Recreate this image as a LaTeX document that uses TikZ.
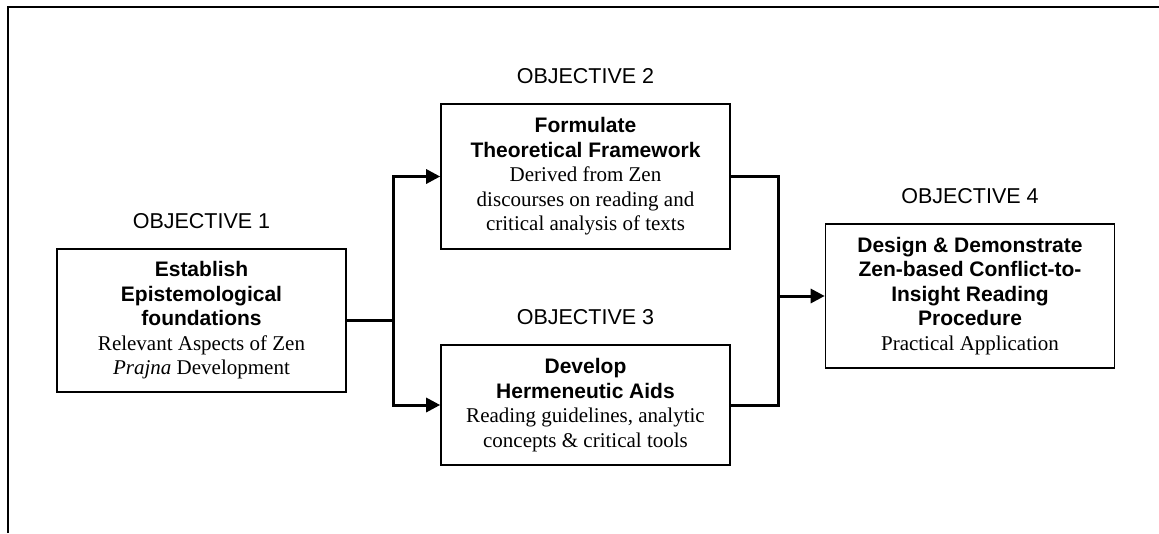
\documentclass[tikz,border=0pt]{standalone}
\usepackage{fontspec}
\setmainfont{Liberation Serif}
\setsansfont{Liberation Sans}
\usetikzlibrary{positioning,arrows.meta}

\tikzset{
  objbox/.style={draw,line width=1.6pt,minimum width=289pt,inner sep=0pt,align=center,
    font=\fontsize{21}{24.5}\selectfont},
  objlabel/.style={inner sep=0pt,font=\sffamily\fontsize{21.5}{24}\selectfont},
  link/.style={line width=3pt},
  linkarrow/.style={link,-{Triangle[length=14pt,width=14pt]}}
}
\newcommand{\boxhead}[1]{{\sffamily\bfseries #1}}

\begin{document}
\begin{tikzpicture}[x=1pt,y=-1pt]
\useasboundingbox (0,0) rectangle (1159,533);
\draw[line width=2.5pt] (8,533) -- (8,7) -- (1159,7);

\node[objbox,minimum height=143pt] (o1) at (201.5,320.5)
  {\boxhead{Establish}\\\boxhead{Epistemological}\\\boxhead{foundations}\\
   Relevant Aspects of Zen\\\textit{Prajna} Development};
\node[objbox,minimum height=145pt] (o2) at (585.5,176.5)
  {\boxhead{Formulate}\\\boxhead{Theoretical Framework}\\Derived from Zen\\
   discourses on reading and\\critical analysis of texts};
\node[objbox,minimum height=120pt] (o3) at (585.5,405)
  {\boxhead{Develop}\\\boxhead{Hermeneutic Aids}\\Reading guidelines, analytic\\
   concepts \& critical tools};
\node[objbox,minimum height=144pt] (o4) at (970,296)
  {\boxhead{Design \& Demonstrate}\\\boxhead{Zen-based Conflict-to-}\\
   \boxhead{Insight Reading}\\\boxhead{Procedure}\\Practical Application};

\node[objlabel,above=19pt of o1] (l1) {OBJECTIVE 1};
\node[objlabel,above=19pt of o2] (l2) {OBJECTIVE 2};
\node[objlabel,above=19pt of o3] (l3) {OBJECTIVE 3};
\node[objlabel,above=19pt of o4] (l4) {OBJECTIVE 4};

\coordinate (split) at (393,320.5);
\coordinate (merge) at (778,296);
\draw[link] (o1.east) -- (split);
\draw[linkarrow] (split) |- (o2.west);
\draw[linkarrow] (split) |- (o3.west);
\draw[link] (o2.east) -| (merge);
\draw[link] (o3.east) -| (merge);
\draw[linkarrow] (merge) -- (o4.west);
\end{tikzpicture}
\end{document}
